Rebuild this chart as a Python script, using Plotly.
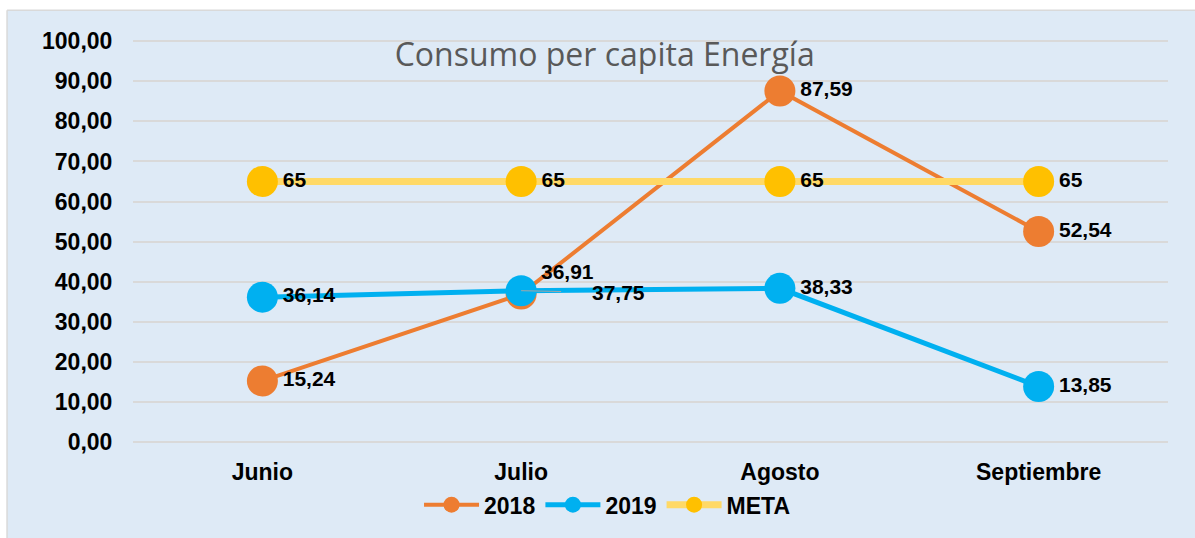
import plotly.graph_objects as go

months = ["Junio", "Julio", "Agosto", "Septiembre"]
v2018 = [15.24, 36.91, 87.59, 52.54]
v2019 = [36.14, 37.75, 38.33, 13.85]
meta = [65, 65, 65, 65]

lab2018 = ["15,24", "", "87,59", "52,54"]
lab2019 = ["36,14", "", "38,33", "13,85"]
labmeta = ["65", "65", "65", "65"]

ORANGE = "#ED7D31"
BLUE = "#00B0F0"
YLINE = "#FFD966"
YMARK = "#FFC000"
BG = "#DEEAF6"
FONT = "Liberation Sans, Arial"
LABEL_FONT = dict(family=FONT, size=21, color="black")

fig = go.Figure()
fig.add_trace(go.Scatter(
    x=months, y=v2018, name="<b>2018</b>", mode="lines+markers+text",
    line=dict(color=ORANGE, width=4), marker=dict(color=ORANGE, size=31),
    text=[f"<b>{t}</b>" if t else "" for t in lab2018],
    textposition="middle right", textfont=LABEL_FONT, cliponaxis=False,
))
fig.add_trace(go.Scatter(
    x=months, y=v2019, name="<b>2019</b>", mode="lines+markers+text",
    line=dict(color=BLUE, width=5), marker=dict(color=BLUE, size=31),
    text=[f"<b>{t}</b>" if t else "" for t in lab2019],
    textposition="middle right", textfont=LABEL_FONT, cliponaxis=False,
))
fig.add_trace(go.Scatter(
    x=months, y=meta, name="<b>META</b>", mode="lines+markers+text",
    line=dict(color=YLINE, width=7), marker=dict(color=YMARK, size=31),
    text=[f"<b>{t}</b>" for t in labmeta],
    textposition="middle right", textfont=LABEL_FONT, cliponaxis=False,
))

# label for 2018 Julio (placed above-right)
fig.add_annotation(
    x=months[1], y=v2018[1], text="<b>36,91</b>", showarrow=False,
    xshift=46, yshift=23, font=LABEL_FONT,
)
# leader-lined label for 2019 Julio
fig.add_annotation(
    x=months[1], y=v2019[1], text="<b>37,75</b>", showarrow=True,
    arrowhead=0, arrowwidth=1, arrowcolor="#A6A6A6",
    ax=97, ay=2, borderpad=30, font=LABEL_FONT,
)

# white strips on top/left + border lines of the chart area
XL = -0.1217
YT = 1.0743
fig.add_shape(type="rect", xref="paper", yref="paper", x0=-1, x1=2, y0=YT, y1=2,
              fillcolor="white", line=dict(width=0), layer="below")
fig.add_shape(type="rect", xref="paper", yref="paper", x0=-1, x1=XL, y0=-1, y1=2,
              fillcolor="white", line=dict(width=0), layer="below")
fig.add_shape(type="line", xref="paper", yref="paper", x0=XL, x1=2, y0=YT, y1=YT,
              line=dict(color="#D9D9D9", width=1.5), layer="below")
fig.add_shape(type="line", xref="paper", yref="paper", x0=XL, x1=XL, y0=-1, y1=YT,
              line=dict(color="#D9D9D9", width=1.5), layer="below")

fig.update_layout(
    width=1195, height=538,
    margin=dict(l=133, r=27, t=40, b=94),
    paper_bgcolor=BG, plot_bgcolor=BG,
    separators=",.",
    title=dict(text="Consumo per capita Energía", x=0.506, xanchor="center",
               y=1 - 55 / 538, yanchor="middle",
               font=dict(family="Open Sans", size=32, color="#595959")),
    showlegend=True,
    legend=dict(orientation="h", x=0.458, xanchor="center", y=-0.156, yanchor="middle",
                font=dict(family=FONT, size=23, color="black"),
                bgcolor="rgba(0,0,0,0)", traceorder="normal", itemwidth=55),
    font=dict(family=FONT, color="black"),
)
fig.update_xaxes(
    range=[-0.5, 3.5], showgrid=False, showline=False, zeroline=False,
    ticks="outside", ticklen=9, tickcolor="rgba(0,0,0,0)",
    tickfont=dict(family=FONT, size=23, color="black"),
    ticktext=[f"<b>{m}</b>" for m in months], tickvals=months,
)
fig.update_yaxes(
    range=[0, 100.3], tick0=0, dtick=10, tickformat=".2f",
    showgrid=True, gridcolor="#D9D9D9", gridwidth=1.5,
    zeroline=True, zerolinecolor="#D9D9D9", zerolinewidth=1.5,
    showline=False, ticks="outside", ticklen=15, tickcolor="rgba(0,0,0,0)",
    tickfont=dict(family=FONT, size=23, color="black"),
    tickprefix="<b>", ticksuffix="</b>",
)

fig.write_html("out.html", config={"displayModeBar": False},
               post_script="document.body.style.margin='0';")
